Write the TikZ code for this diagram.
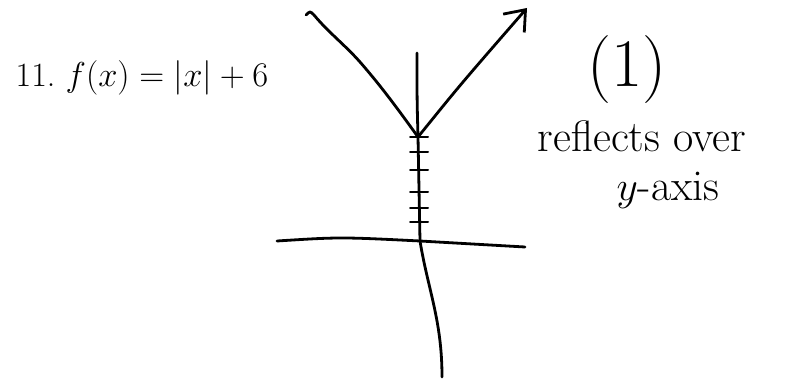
\documentclass[tikz,border=0pt]{standalone}
\usepackage{amsmath}
\usepackage{tikz}
\usetikzlibrary{calc,arrows.meta}

\begin{document}
\begin{tikzpicture}[x=0.5pt,y=-0.5pt,line width=1.4pt,line cap=round,line join=round,
        every node/.style={inner sep=1pt}]
        \useasboundingbox (0,0) rectangle (786,384);

        % Vertex of the graph
        \coordinate (vertex) at (418,137);
        \coordinate (origin) at (420,241);

        % Draw the axes
        \draw (417,53) .. controls (417,100) .. (vertex) -- (origin)
            .. controls (428,290) and (442,320) .. (442,377);
        \draw (277,241) .. controls (340,237) .. (origin) -- (525,247);

        % Draw the ticks
        \foreach \ty in {152,170,192,208,222}
            \draw[line width=1pt] (410,\ty) -- (428,\ty);
        \draw[line width=1pt] (410,137) -- (428,137);

        % Draw the graph
        \draw (vertex) .. controls (395,105) and (380,85) .. (360,62)
            .. controls (345,45) and (328,32) .. (314,15)
            .. controls (310,11) .. (306,15);
        \draw[-{Straight Barb[length=9pt,width=14pt]}] (vertex) .. controls (460,85) .. (527,8);

        % Labels
        \node (title) at (142,78) {\fontsize{17}{21}\selectfont 11.\ $f(x)=\lvert x\rvert+6$};
        \node (num) at (627,70) {\fontsize{34}{38}\selectfont (1)};
        \node (note1) at (642,136) {\fontsize{22}{26}\selectfont reflects over};
        \node (note2) at (668,190) {\fontsize{22}{26}\selectfont $y$-axis};
\end{tikzpicture}
\end{document}
